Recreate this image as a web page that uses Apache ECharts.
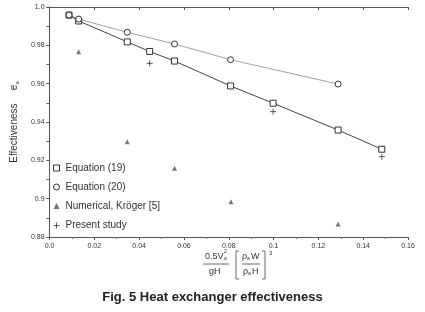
<!DOCTYPE html>
<html>
<head>
<meta charset="utf-8">
<script src="https://cdn.jsdelivr.net/npm/echarts@6/dist/echarts.min.js"></script>
<style>
  html, body { margin: 0; padding: 0; background: #fff; }
  #chart { width: 425px; height: 312px; }
</style>
</head>
<body>
<div id="chart"></div>
<script>
// values
const xEq19 = [0.0087, 0.013, 0.0347, 0.0447, 0.0558, 0.0808, 0.0998, 0.1288, 0.1483]
const yEq19 = [0.9958, 0.9927, 0.9818, 0.9768, 0.9718, 0.9588, 0.9498, 0.9358, 0.9258]

const xEq20 = [0.0087, 0.013, 0.0347, 0.0558, 0.0808, 0.1288]
const yEq20 = [0.9958, 0.9937, 0.9868, 0.9807, 0.9725, 0.9598]

const xKroger = [0.013, 0.0347, 0.0558, 0.081, 0.1288]
const yKroger = [0.9767, 0.9297, 0.9159, 0.8984, 0.8868]

const xPresent = [0.0447, 0.0998, 0.1483]
const yPresent = [0.9706, 0.9454, 0.9219]

const seriesNames = ['Equation (19)', 'Equation (20)', 'Numerical, Kröger [5]', 'Present study']

const FONT = '"Liberation Sans", Arial, sans-serif'
const INK = '#333'

const pairs = (xs, ys) => xs.map((x, i) => [x, ys[i]])

const plusPath = 'path://M5,0L5,10M0,5L10,5'

const chart = echarts.init(document.getElementById('chart'), null, { renderer: 'canvas' })

const option = {
  animation: false,
  backgroundColor: '#fff',
  grid: { left: 35, right: 17, top: 7, bottom: 75, containLabel: false },
  legend: {
    orient: 'vertical',
    left: 51,
    top: 163,
    padding: 0,
    itemGap: 9,
    itemWidth: 6,
    itemHeight: 6,
    itemStyle: { borderWidth: 1 },
    textStyle: { fontFamily: FONT, fontSize: 10, color: INK, padding: [0, 0, 0, 1] },
    data: [
      { name: seriesNames[0], icon: 'rect' },
      { name: seriesNames[1], icon: 'circle' },
      { name: seriesNames[2], icon: 'triangle' },
      { name: seriesNames[3], icon: plusPath }
    ]
  },
  xAxis: [{
    type: 'value', min: 0, max: 0.16, interval: 0.02, position: 'bottom',
    axisLine: { lineStyle: { color: '#555', width: 1 } },
    axisTick: { inside: false, length: 3, lineStyle: { color: '#555' } },
    minorTick: { show: true, splitNumber: 2, length: 2, lineStyle: { color: '#777' } },
    splitLine: { show: false },
    axisLabel: {
      fontFamily: FONT, fontSize: 7, color: INK, margin: 6,
      formatter: v => v === 0 ? '0.0' : String(+v.toFixed(2))
    }
  }, {
    type: 'value', min: 0, max: 0.16, interval: 0.02, position: 'top',
    axisLine: { show: true, lineStyle: { color: '#555', width: 1 } },
    axisTick: { show: true, inside: true, length: 3, lineStyle: { color: '#555' } },
    splitLine: { show: false },
    axisLabel: { show: false }
  }],
  yAxis: [{
    type: 'value', min: 0.88, max: 1.0, interval: 0.02, position: 'left',
    name: '{a|Effectiveness}    {e|e}{s|a}',
    nameLocation: 'middle',
    nameRotate: 90,
    nameGap: 24,
    nameTextStyle: {
      rich: {
        a: { fontFamily: FONT, fontSize: 10, color: INK },
        e: { fontFamily: FONT, fontSize: 10, color: INK },
        s: { fontFamily: FONT, fontSize: 6, color: INK, verticalAlign: 'bottom', padding: [6, 0, 0, 0] }
      }
    },
    axisLine: { show: true, lineStyle: { color: '#555', width: 1 } },
    axisTick: { show: true, inside: false, length: 3, lineStyle: { color: '#555' } },
    splitLine: { show: false },
    axisLabel: {
      fontFamily: FONT, fontSize: 7, color: INK, margin: 5,
      formatter: v => v === 1 ? '1.0' : String(+v.toFixed(2))
    }
  }, {
    type: 'value', min: 0.88, max: 1.0, interval: 0.01, position: 'right',
    axisLine: { show: true, lineStyle: { color: '#555', width: 1 } },
    axisTick: { show: true, inside: true, length: 3, lineStyle: { color: '#555' } },
    splitLine: { show: false },
    axisLabel: { show: false }
  }],
  series: [{
    name: seriesNames[0],
    type: 'line',
    data: pairs(xEq19, yEq19),
    symbol: 'rect',
    symbolSize: 6,
    lineStyle: { color: '#444', width: 1 },
    itemStyle: { color: '#fff', borderColor: '#333', borderWidth: 1 },
    z: 3
  }, {
    name: seriesNames[1],
    type: 'line',
    data: pairs(xEq20, yEq20),
    symbol: 'circle',
    symbolSize: 6,
    lineStyle: { color: '#888', width: 0.8 },
    itemStyle: { color: '#fff', borderColor: '#333', borderWidth: 1 },
    z: 3
  }, {
    name: seriesNames[2],
    type: 'scatter',
    data: pairs(xKroger, yKroger),
    symbol: 'triangle',
    symbolSize: 5,
    itemStyle: { color: '#555' }
  }, {
    name: seriesNames[3],
    type: 'scatter',
    data: pairs(xPresent, yPresent),
    symbol: plusPath,
    symbolSize: 6,
    itemStyle: { color: 'none', borderColor: '#333', borderWidth: 1 }
  }],
  graphic: [
    // x-axis label: 0.5V_a^2 / gH  [rho_a W / rho_a H]^3
    { type: 'text', left: 205, top: 252, style: { text: '0.5V', font: '9px ' + FONT, fill: INK } },
    { type: 'text', left: 224, top: 249, style: { text: '2', font: '5px ' + FONT, fill: INK } },
    { type: 'text', left: 224, top: 256, style: { text: 'a', font: '5px ' + FONT, fill: INK } },
    { type: 'line', shape: { x1: 203, y1: 264, x2: 229, y2: 264 }, style: { stroke: '#444', lineWidth: 0.8 } },
    { type: 'text', left: 209, top: 267, style: { text: 'gH', font: '9px ' + FONT, fill: INK } },
    { type: 'polyline', shape: { points: [[239, 251], [236, 251], [236, 279], [239, 279]] }, style: { stroke: '#444', lineWidth: 0.8, fill: 'none' } },
    { type: 'text', left: 242, top: 252, style: { text: 'ρ', font: '9px ' + FONT, fill: INK } },
    { type: 'text', left: 247, top: 256, style: { text: 'a', font: '5px ' + FONT, fill: INK } },
    { type: 'text', left: 251, top: 252, style: { text: 'W', font: '9px ' + FONT, fill: INK } },
    { type: 'line', shape: { x1: 242, y1: 264, x2: 260, y2: 264 }, style: { stroke: '#444', lineWidth: 0.8 } },
    { type: 'text', left: 243, top: 267, style: { text: 'ρ', font: '9px ' + FONT, fill: INK } },
    { type: 'text', left: 248, top: 271, style: { text: 'a', font: '5px ' + FONT, fill: INK } },
    { type: 'text', left: 252, top: 267, style: { text: 'H', font: '9px ' + FONT, fill: INK } },
    { type: 'polyline', shape: { points: [[262, 251], [265, 251], [265, 279], [262, 279]] }, style: { stroke: '#444', lineWidth: 0.8, fill: 'none' } },
    { type: 'text', left: 269, top: 250, style: { text: '3', font: '6px ' + FONT, fill: INK } },
    // caption
    {
      type: 'text', left: 'center', top: 291,
      style: { text: 'Fig. 5 Heat exchanger effectiveness', font: 'bold 13px ' + FONT, fill: '#222' }
    }
  ]
}

chart.setOption(option)
</script>
</body>
</html>
